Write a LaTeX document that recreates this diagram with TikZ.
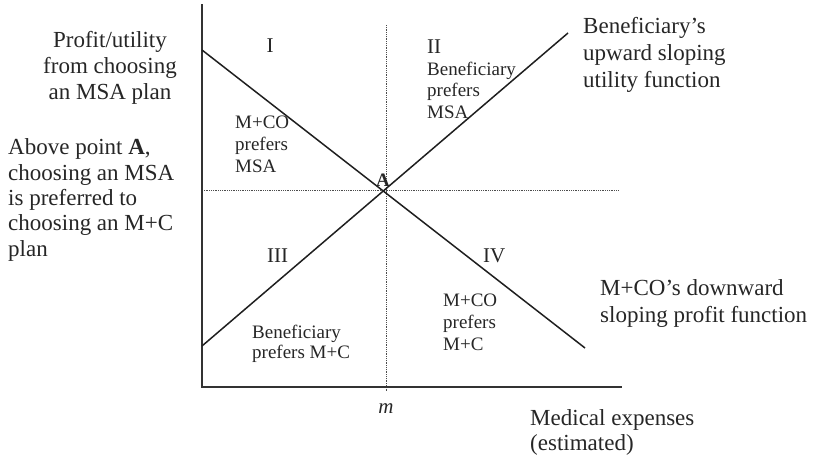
\documentclass[tikz,border=0pt]{standalone}
\usepackage{fontspec}
\setmainfont{Liberation Serif}
\begin{document}
\begin{tikzpicture}[x=1pt,y=-1pt,
  big/.style={inner sep=0pt, font=\fontsize{23}{26}\selectfont, text=black!85},
  small/.style={inner sep=0pt, font=\fontsize{19}{21.5}\selectfont, text=black!85},
  roman/.style={inner sep=0pt, font=\fontsize{21}{24}\selectfont, text=black!85},
  axisline/.style={draw=black!80, line width=1.4pt},
  guide/.style={draw=black!70, line width=0.9pt, dash pattern=on 0.9pt off 0.9pt},
  fn/.style={draw=black!88, line width=1.5pt}]
\useasboundingbox (0,0) rectangle (814,463);
% coordinates
\coordinate (ytop) at (202,4);
\coordinate (O) at (202,387);
\coordinate (xend) at (622,387);
\coordinate (vtop) at (386,25);
\coordinate (vbot) at (386,391);
\coordinate (hl) at (202,190);
\coordinate (hr) at (618,190);
\coordinate (dstart) at (202,50);
\coordinate (dend) at (585,348);
\coordinate (ustart) at (202,346);
\coordinate (uend) at (568,33);
% guides
\draw[guide] (vtop) -- (vbot);
\draw[guide] (hl) -- (hr);
% axes
\draw[axisline] (ytop) -- (O) -- (xend);
% functions
\draw[fn] (dstart) -- (dend);
\draw[fn] (ustart) -- (uend);
% left texts (anchor base = baseline of last line)
\node[big, align=center, anchor=base] (ylab) at (110,99) {Profit/utility\\from choosing\\an MSA plan};
\node[big, align=left, anchor=base west, font=\fontsize{23}{25.3}\selectfont] (above) at (8,256) {Above point \textbf{A},\\choosing an MSA\\is preferred to\\choosing an M+C\\plan};
% right texts
\node[big, align=left, anchor=base west, font=\fontsize{23}{27}\selectfont] (ulab) at (583,87) {Beneficiary’s\\upward sloping\\utility function};
\node[big, align=left, anchor=base west, font=\fontsize{23}{27}\selectfont] (dlab) at (600,322) {M+CO’s downward\\sloping profit function};
\node[big, align=left, anchor=base west, font=\fontsize{23}{25}\selectfont] (xlab) at (530,450) {Medical expenses\\(estimated)};
\node[roman, anchor=base, font=\fontsize{21}{24}\selectfont\itshape] (m) at (386,413) {m};
% region numerals
\node[roman, anchor=base] (r1) at (270,52) {I};
\node[roman, anchor=base west] (r2) at (427,53) {II};
\node[roman, anchor=base west] (r3) at (267,262) {III};
\node[roman, anchor=base west] (r4) at (483,262) {IV};
% region texts
\node[small, align=left, anchor=base west, font=\fontsize{19}{22}\selectfont] (t1) at (235,172) {M+CO\\prefers\\MSA};
\node[small, align=left, anchor=base west] (t2) at (427,118) {Beneficiary\\prefers\\MSA};
\node[small, align=left, anchor=base west, font=\fontsize{19}{20}\selectfont] (t3) at (252,358) {Beneficiary\\prefers M+C};
\node[small, align=left, anchor=base west, font=\fontsize{19}{22}\selectfont] (t4) at (443,350) {M+CO\\prefers\\M+C};
\node[small, anchor=base, font=\fontsize{19}{22}\selectfont\bfseries] (A) at (383,186) {A};
\end{tikzpicture}
\end{document}
